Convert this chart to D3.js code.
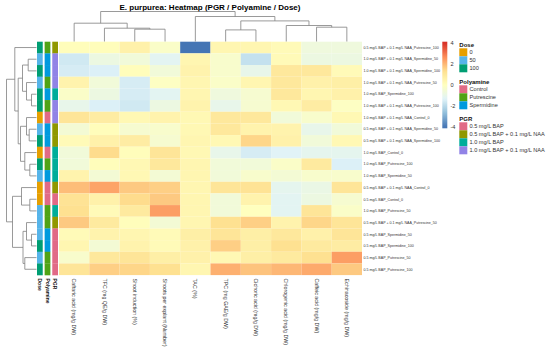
<!DOCTYPE html>
<html lang="en">
<head>
<meta charset="UTF-8">
<title>E. purpurea heatmap</title>
<script src="https://d3js.org/d3.v7.min.js"></script>
<style>
  body { margin: 0; background: #fff; }
  svg { font-family: "Liberation Sans", Arial, sans-serif; }
  .dendro { fill: none; stroke: #808080; stroke-width: 0.8; }
  .rowlab { font-size: 3.6px; fill: #333; }
  .collab { font-size: 5.3px; fill: #333; }
  .annlab { font-size: 5px; font-weight: bold; fill: #111; }
  .legtitle { font-size: 6px; font-weight: bold; fill: #111; }
  .leglab { font-size: 5.6px; fill: #333; }
</style>
</head>
<body>
<script>
const colLabels = [
  "Caftaric acid (mg/g DW)", "TFC (mg QE/g DW)", "Shoot induction (%)",
  "Shoots per explant (Number)", "TAC (%)", "TPC (mg GAE/g DW)",
  "Cichoric acid (mg/g DW)", "Chlorogenic acid (mg/g DW)",
  "Caffeic acid (mg/g DW)", "Echinacoside (mg/g DW)"
];

const rowLabels = [
  "0.5 mg/L BAP + 0.1 mg/L NAA_Putrescine_100",
  "1.0 mg/L BAP + 0.1 mg/L NAA_Spermidine_50",
  "1.0 mg/L BAP + 0.1 mg/L NAA_Spermidine_100",
  "1.0 mg/L BAP + 0.1 mg/L NAA_Putrescine_50",
  "1.0 mg/L BAP_Spermidine_100",
  "1.0 mg/L BAP + 0.1 mg/L NAA_Putrescine_100",
  "1.0 mg/L BAP + 0.1 mg/L NAA_Control_0",
  "0.5 mg/L BAP + 0.1 mg/L NAA_Spermidine_50",
  "0.5 mg/L BAP + 0.1 mg/L NAA_Spermidine_100",
  "1.0 mg/L BAP_Control_0",
  "1.0 mg/L BAP_Putrescine_100",
  "1.0 mg/L BAP_Spermidine_50",
  "0.5 mg/L BAP + 0.1 mg/L NAA_Control_0",
  "0.5 mg/L BAP_Control_0",
  "1.0 mg/L BAP_Putrescine_50",
  "0.5 mg/L BAP + 0.1 mg/L NAA_Putrescine_50",
  "0.5 mg/L BAP_Spermidine_50",
  "0.5 mg/L BAP_Spermidine_100",
  "0.5 mg/L BAP_Putrescine_50",
  "0.5 mg/L BAP_Putrescine_100"
];

// z-scores, one row per treatment, columns in colLabels order
const values = [
  [ 0.1,  0.1,  0.6, -0.2, -4.0,  0.4,  0.4,  0.2, -0.7, -0.7],
  [-1.6, -0.8, -0.6, -1.2,  0.4, -0.3, -1.8,  0.2, -0.8, -0.8],
  [-1.5, -1.4,  0.1, -0.6,  0.5, -0.3, -1.0,  1.0,  1.0,  0.2],
  [ 0.5, -0.6, -1.5, -0.1,  0.4, -0.2,  0.4,  1.0,  0.6,  0.7],
  [-0.2, -0.8, -1.5, -1.2,  0.4, -0.7, -0.4,  1.0,  0.4,  0.6],
  [-1.0, -1.4, -1.6, -0.8,  0.5, -1.0, -0.4,  0.3,  0.8, -0.1],
  [ 1.1,  0.8,  0.3,  0.5,  0.3,  1.0,  1.0, -0.6, -0.3,  0.3],
  [-0.5,  0.1, -0.4, -0.3,  0.3,  1.0,  0.5,  0.5, -1.0, -0.6],
  [ 0.2,  0.6,  0.8, -0.4,  0.4,  0.3,  1.5,  0.6, -0.6,  0.3],
  [-0.6,  1.4,  0.1,  1.1,  0.3, -1.0, -1.5, -1.3, -1.1, -1.1],
  [-0.6,  0.1,  0.3,  1.0,  0.4, -0.6, -0.6, -0.2,  0.9, -1.4],
  [ 0.5, -0.5,  0.3, -0.5,  0.4, -0.6, -0.3, -0.5, -0.3, -0.3],
  [ 1.9,  2.3,  1.7,  1.6,  0.4,  1.1,  1.2, -1.1, -0.9,  1.1],
  [ 1.2,  0.6,  1.4,  1.7,  0.4, -0.6,  0.5, -1.2, -0.8, -0.4],
  [ 1.3,  0.2,  0.9,  2.4,  0.4, -0.6,  0.0, -1.2,  1.1, -0.2],
  [ 1.7,  0.9,  0.1, -0.5,  0.4,  1.3,  1.6,  0.5,  1.5,  1.1],
  [ 0.2,  0.5,  0.4,  0.2,  0.7,  1.1,  0.7,  1.0,  0.6,  1.1],
  [ 0.4, -0.5,  0.5,  0.2,  0.6,  1.6,  0.7,  1.3,  0.9,  0.8],
  [-0.3,  1.0,  1.1,  0.7,  0.6,  0.3,  0.7,  0.9,  1.3,  2.4],
  [ 1.1,  1.6,  1.5,  1.3,  0.4,  2.1,  1.8,  2.0,  2.2,  1.7]
];

// dendrograms: [height, left, right], leaves are indices
const colTree = [30, [18.3, 0, [13.3, 1, [12.3, 2, 3]]],
                     [25, 4, [20.6, [11.6, 5, 6], [16, 7, [14.3, 8, 9]]]]];
const rowTree = [30,
  [21.7, 0, [18.3, [14, [8.3, 1, 2], [10, 3, [5, 4, 5]]],
                   [16, [10, 6, [7.3, 7, 8]], [11.7, 9, [6.7, 10, 11]]]]],
  [24, [15, 12, [6.7, 13, 14]], [13.5, [10, 15, [5, 16, 17]], [11.7, 18, 19]]]];

const annNames = ["Dose", "Polyamine", "PGR"];
const doseLevels = ["0", "50", "100"];
const doseColors = ["#E69F00", "#56B4E9", "#009E73"];
const polyLevels = ["Control", "Putrescine", "Spermidine"];
const polyColors = ["#E16A86", "#50A315", "#009ADE"];
const pgrLevels = ["0.5 mg/L BAP", "0.5 mg/L BAP + 0.1 mg/L NAA", "1.0 mg/L BAP", "1.0 mg/L BAP + 0.1 mg/L NAA"];
const pgrColors = ["#E16A86", "#909800", "#00AD9A", "#9183E6"];

const paletteStops = [-4, -2.667, -1.333, 0, 1.333, 2.667, 4];
const paletteColors = ["#4575B4", "#91BFDB", "#E0F3F8", "#FFFFBF", "#FEE090", "#FC8D59", "#D73027"];
const legendTicks = [4, 2, 0, -2, -4];

const W = 550, H = 348;
const svg = d3.select("body").append("svg").attr("width", W).attr("height", H);

const x = d3.scaleBand().domain(d3.range(colLabels.length)).range([59, 362]);
const y = d3.scaleBand().domain(d3.range(rowLabels.length)).range([41.7, 275.1]);
const color = d3.scaleLinear().domain(paletteStops).range(paletteColors).clamp(true);

// title
svg.append("text").attr("x", 210).attr("y", 10)
  .attr("text-anchor", "middle").style("font-size", "8px").style("font-weight", "bold")
  .text("E. purpurea: Heatmap (PGR / Polyamine / Dose)");

// cells
values.forEach((row, i) => {
  svg.append("g").selectAll("rect").data(row).join("rect")
    .attr("x", (d, j) => x(j)).attr("y", y(i))
    .attr("width", x.bandwidth()).attr("height", y.bandwidth())
    .attr("fill", d => color(d));
});

// annotations
const ax = d3.scaleBand().domain(annNames).range([37, 58]).paddingInner(0.25);
const annColor = {
  Dose: d3.scaleOrdinal(doseLevels, doseColors),
  Polyamine: d3.scaleOrdinal(polyLevels, polyColors),
  PGR: d3.scaleOrdinal(pgrLevels, pgrColors)
};
rowLabels.forEach((lab, i) => {
  const p = lab.split("_");
  const vals = { PGR: p[0], Polyamine: p[1], Dose: p[2] };
  annNames.forEach(a => {
    svg.append("rect").attr("x", ax(a)).attr("y", y(i))
      .attr("width", ax.bandwidth()).attr("height", y.bandwidth() + 0.2)
      .attr("fill", annColor[a](vals[a]));
  });
});

// labels
svg.append("g").selectAll("text").data(rowLabels).join("text")
  .attr("class", "rowlab").attr("x", 363.5)
  .attr("y", (d, i) => y(i) + y.bandwidth() / 2).attr("dy", "0.35em").text(d => d);

svg.append("g").selectAll("text").data(colLabels).join("text")
  .attr("class", "collab")
  .attr("transform", (d, j) => `translate(${x(j) + x.bandwidth() / 2},278.5) rotate(90)`)
  .attr("dy", "0.35em").text(d => d);

svg.append("g").selectAll("text").data(annNames).join("text")
  .attr("class", "annlab")
  .attr("transform", d => `translate(${ax(d) + ax.bandwidth() / 2},278.5) rotate(90)`)
  .attr("dy", "0.35em").text(d => d);

// dendrograms
function drawTree(tree, pos, hScale, vertical) {
  const g = svg.append("g");
  const seg = (a1, b1, a2, b2) => vertical
    ? g.append("line").attr("class", "dendro").attr("x1", a1).attr("y1", b1).attr("x2", a2).attr("y2", b2)
    : g.append("line").attr("class", "dendro").attr("x1", b1).attr("y1", a1).attr("x2", b2).attr("y2", a2);
  function walk(node) {
    if (typeof node === "number") return { p: pos(node), h: 0 };
    const l = walk(node[1]), r = walk(node[2]);
    const hv = hScale(node[0]);
    seg(l.p, hScale(l.h), l.p, hv);
    seg(r.p, hScale(r.h), r.p, hv);
    seg(l.p, hv, r.p, hv);
    return { p: (l.p + r.p) / 2, h: node[0] };
  }
  walk(tree);
}
drawTree(colTree, j => x(j) + x.bandwidth() / 2,
  d3.scaleLinear().domain([0, 30]).range([41.5, 11.5]), true);
drawTree(rowTree, i => y(i) + y.bandwidth() / 2,
  d3.scaleLinear().domain([0, 30]).range([36.5, 6.5]), false);

// colour legend
const barTop = 41.7, barBot = 128.3;
const ly = d3.scaleLinear().domain([-4.12, 4.12]).range([barBot, barTop]);
const grad = svg.append("defs").append("linearGradient").attr("id", "grad")
  .attr("x1", 0).attr("y1", 1).attr("x2", 0).attr("y2", 0);
d3.range(-4.12, 4.13, 0.206).forEach(v => {
  grad.append("stop").attr("offset", (v + 4.12) / 8.24).attr("stop-color", color(v));
});
svg.append("rect").attr("x", 442.3).attr("y", barTop).attr("width", 5)
  .attr("height", barBot - barTop).attr("fill", "url(#grad)");
svg.append("g").selectAll("text").data(legendTicks).join("text")
  .attr("class", "leglab").attr("x", 450.5).attr("y", d => ly(d)).attr("dy", "0.35em")
  .text(d => d);

// annotation legends
const groups = [
  { title: "Dose", levels: doseLevels, colors: doseColors, top: 46.5 },
  { title: "Polyamine", levels: polyLevels, colors: polyColors, top: 83.5 },
  { title: "PGR", levels: pgrLevels, colors: pgrColors, top: 120.5 }
];
groups.forEach(gr => {
  svg.append("text").attr("class", "legtitle").attr("x", 459.3).attr("y", gr.top).text(gr.title);
  gr.levels.forEach((lv, k) => {
    const yy = gr.top + 1.8 + k * 8;
    svg.append("rect").attr("x", 459.3).attr("y", yy).attr("width", 8).attr("height", 8)
      .attr("fill", gr.colors[k]);
    svg.append("text").attr("class", "leglab").attr("x", 469.5).attr("y", yy + 4)
      .attr("dy", "0.35em").text(lv);
  });
});
</script>
</body>
</html>
